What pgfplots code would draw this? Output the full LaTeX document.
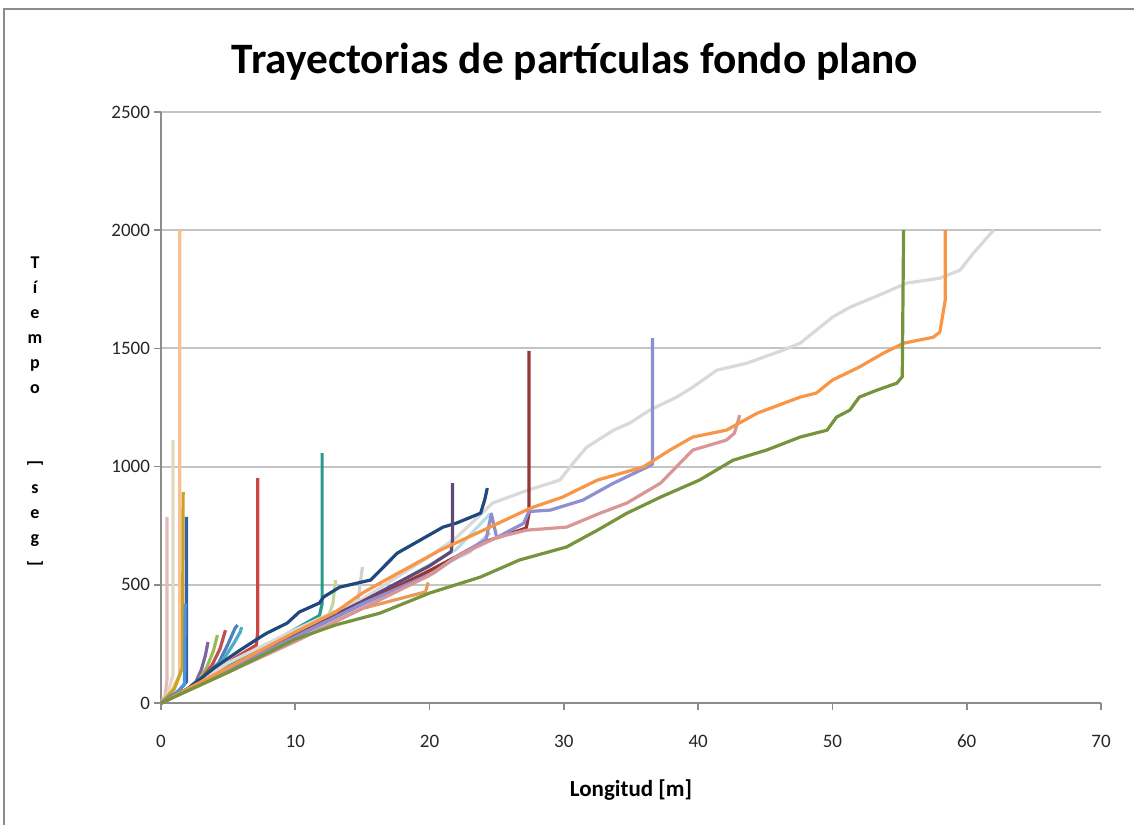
\documentclass[border=0pt]{standalone}
\usepackage{pgfplots}
\pgfplotsset{compat=1.18}
\usepackage{fontspec}
\setmainfont{Carlito}
\usepackage{graphicx}
\definecolor{gridc}{HTML}{C4C4C4}
\definecolor{axc}{HTML}{8C8C8C}
\begin{document}
\begin{tikzpicture}[x=1pt,y=1pt]
\useasboundingbox (0,0) rectangle (567,412.5);
\draw[axc, line width=1pt] (2,0) -- (2,408) -- (567,408);
\begin{axis}[
  at={(80.5pt,61pt)}, anchor=south west,
  width=470pt, height=295.5pt, scale only axis,
  xmin=0, xmax=70, ymin=0, ymax=2500,
  xtick={0,10,...,70}, ytick={0,500,...,2500},
  ymajorgrids, grid style={draw=gridc, line width=1pt},
  axis x line*=bottom, axis y line*=left,
  axis line style={draw=axc, line width=0.8pt, -},
  tick align=outside, major tick length=3.5pt,
  tick style={draw=axc, line width=0.8pt},
  /pgf/number format/assume math mode=true,
  /pgf/number format/1000 sep={},
  ticklabel style={font=\fontsize{9.5}{10}\selectfont, text=black!85},
  xticklabel style={yshift=-9pt},
  yticklabel style={xshift=1.5pt},
  every axis plot/.append style={line width=1.6pt, line join=round, no marks},
  clip=false
]
% pale near-axis spikes
\addplot[color={rgb,255:red,230;green,185;blue,184}] coordinates {(0,0)(0.3,30)(0.45,100)(0.45,787)};
\addplot[color={rgb,255:red,221;green,217;blue,195}] coordinates {(0,0)(0.5,40)(0.9,120)(0.9,1112)};
\addplot[color={rgb,255:red,250;green,192;blue,143}] coordinates {(0,0)(0.8,50)(1.4,120)(1.4,2000)};
\addplot[color={rgb,255:red,201;green,162;blue,39}] coordinates {(0,0)(1,60)(1.6,150)(1.65,892)};
\addplot[color={rgb,255:red,55;green,96;blue,170}] coordinates {(0,0)(1.3,50)(1.9,90)(1.9,787)};
\addplot[color={rgb,255:red,79;green,150;blue,215}] coordinates {(0,0)(1.2,45)(1.75,80)(1.8,420)};
% small curves
\addplot[color={rgb,255:red,128;green,100;blue,162}] coordinates {(0,0)(1,30)(2,60)(2.6,90)(3.0,140)(3.3,200)(3.5,258)};
\addplot[color={rgb,255:red,155;green,187;blue,89}] coordinates {(0,0)(1,30)(2,60)(2.8,95)(3.4,150)(3.9,220)(4.2,287)};
\addplot[color={rgb,255:red,192;green,80;blue,77}] coordinates {(0,0)(1,30)(2,60)(3,100)(3.8,160)(4.4,230)(4.8,308)};
\addplot[color={rgb,255:red,79;green,129;blue,189}] coordinates {(0,0)(1,30)(2,60)(3.2,110)(4.3,170)(5.0,250)(5.5,315)(5.7,330)};
\addplot[color={rgb,255:red,75;green,172;blue,198}] coordinates {(0,0)(1,30)(2,60)(3.5,120)(4.6,180)(5.4,250)(5.9,300)(6.0,321)};
% pale bunch lines
\addplot[color={rgb,255:red,195;green,214;blue,155}] coordinates {(0,0)(5,140)(10,270)(12.3,340)(12.8,420)(13,520)};
\addplot[color={rgb,255:red,208;green,206;blue,206}] coordinates {(0,0)(5,140)(10,280)(14.6,400)(15,575)};
\addplot[color={rgb,255:red,229;green,155;blue,91}] coordinates {(0,0)(5,140)(10,270)(15,400)(19.7,470)(19.9,510)};
\addplot[color={rgb,255:red,183;green,222;blue,232}] coordinates {(0,0)(6,170)(12,330)(18,520)(22,650)(24.5,800)};
\addplot[color={rgb,255:red,204;green,192;blue,218}] coordinates {(0,0)(6,165)(12,320)(18,500)(23,640)(24.5,720)};
% main lines
\addplot[color={rgb,255:red,205;green,70;blue,70}] coordinates {(0,0)(2,60)(4,130)(5.5,190)(7.1,245)(7.2,300)(7.2,951)};
\addplot[color={rgb,255:red,42;green,154;blue,140}] coordinates {(0,0)(3,90)(6,185)(9,280)(11.8,370)(12,420)(12,1057)};
\addplot[color={rgb,255:red,217;green,217;blue,217}] coordinates {(0,0)(2,60)(5,170)(10,310)(15,440)(20,620)(22,700)(24.7,846)(27.3,900)(29.7,943)(30.7,1015)(31.7,1082)(33.7,1154)(34.9,1184)(36.4,1239)(38.4,1294)(39.6,1336)(41.4,1408)(43.6,1437)(46.3,1492)(47.6,1522)(50,1632)(51.3,1674)(53.8,1733)(55.5,1776)(58,1797)(59.5,1831)(60.5,1903)(62,2000)};
\addplot[color={rgb,255:red,31;green,73;blue,125}] coordinates {(0,0)(2,60)(4,150)(5.9,224)(7.4,279)(7.9,296)(9.4,338)(10.3,385)(11.8,423)(12.1,448)(13.3,490)(14.6,507)(15.6,520)(17.6,634)(19.3,689)(21.0,744)(22.0,761)(23.8,803)(24.1,858)(24.3,909)};
\addplot[color={rgb,255:red,95;green,73;blue,122}] coordinates {(0,0)(5,140)(10,290)(15,430)(20,580)(21.6,640)(21.7,680)(21.7,930)};
\addplot[color={rgb,255:red,149;green,55;blue,53}] coordinates {(0,0)(5,140)(10,280)(15,420)(20,560)(24,680)(27.2,740)(27.4,800)(27.4,1490)};
\addplot[color={rgb,255:red,142;green,142;blue,210}] coordinates {(0,0)(5,140)(10,280)(15,420)(20.3,550)(22.3,630)(24.2,690)(24.6,800)(25,700)(27,760)(27.4,810)(29,816)(31.4,858)(33.7,930)(36.2,998)(36.6,1010)(36.6,1543)};
\addplot[color={rgb,255:red,217;green,150;blue,148}] coordinates {(0,0)(5,130)(10,260)(15,400)(20,540)(22,620)(25,700)(27.2,731)(30.2,744)(32.7,803)(34.7,846)(37.2,930)(39.6,1070)(42.1,1112)(42.7,1141)(43.1,1218)};
\addplot[color={rgb,255:red,247;green,150;blue,70}] coordinates {(0,0)(5,150)(10,300)(13,385)(15,465)(16.3,507)(20.8,647)(21.3,660)(24.5,744)(27.5,824)(29.9,871)(32.5,943)(35.9,998)(37.9,1070)(39.6,1125)(42.1,1154)(44.4,1226)(47.6,1294)(48.8,1311)(50,1366)(52,1421)(53.8,1480)(55.3,1522)(57.5,1547)(58,1569)(58.4,1704)(58.4,2000)};
\addplot[color={rgb,255:red,119;green,147;blue,60}] coordinates {(0,0)(5,130)(10,270)(13,330)(16.3,380)(20,465)(23.8,533)(26.7,605)(30.2,660)(32.5,731)(34.7,803)(37.2,871)(40.1,943)(42.6,1027)(45.1,1070)(47.6,1125)(49.6,1154)(50.3,1209)(51.3,1239)(52,1294)(53.3,1323)(54.8,1353)(55.2,1380)(55.3,2000)};
\end{axis}
\node[font=\bfseries\fontsize{21.7}{24}\selectfont] at (287.5,381.5) {Trayectorias de partículas fondo plano};
\node[font=\bfseries\fontsize{11.5}{13}\selectfont] at (315.5,17.5) {Longitud [m]};
\node[font=\bfseries\fontsize{9}{12.5}\selectfont, align=center, inner sep=0pt] at (17.5,206) {T\\í\\e\\m\\p\\o\\ \\ \\\rotatebox[origin=c]{-90}{[}\\s\\e\\g\\\rotatebox[origin=c]{-90}{]}};
\end{tikzpicture}
\end{document}
